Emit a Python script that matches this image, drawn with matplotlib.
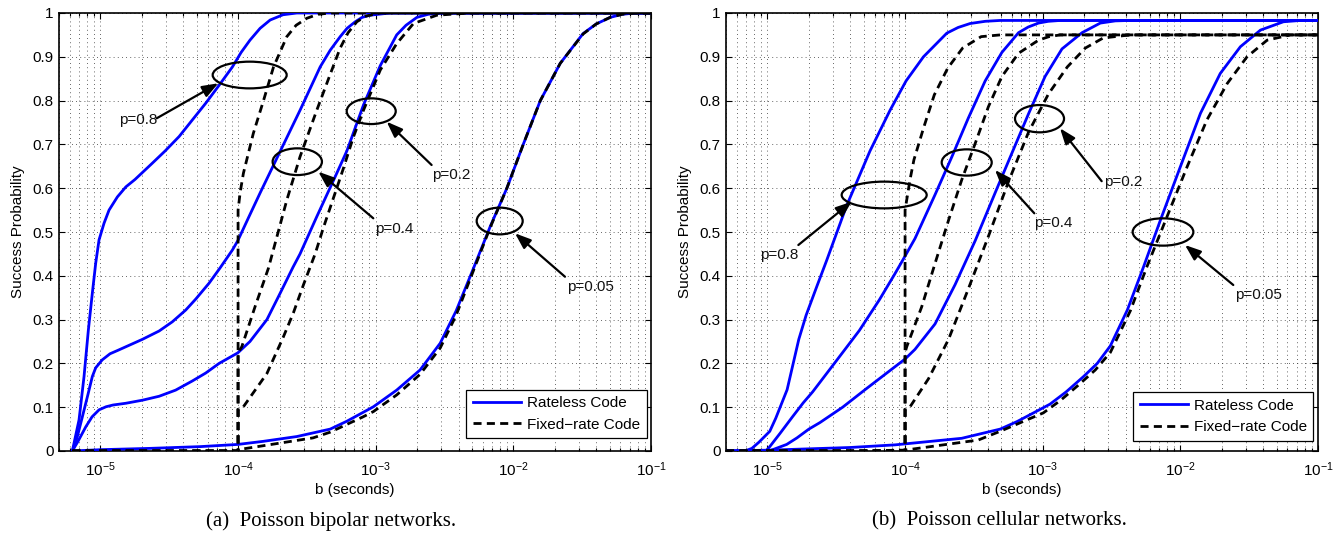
import matplotlib
matplotlib.use('Agg')
import matplotlib.pyplot as plt
from matplotlib.patches import Ellipse
from matplotlib.ticker import LogLocator, NullFormatter, FixedLocator, FixedFormatter

plt.rcParams['font.family'] = ['Liberation Sans', 'DejaVu Sans']
plt.rcParams['mathtext.fontset'] = 'custom'
plt.rcParams['mathtext.rm'] = 'Liberation Sans'
plt.rcParams['mathtext.it'] = 'Liberation Sans:italic'
plt.rcParams['mathtext.bf'] = 'Liberation Sans:bold'

# ---------------- data: (a) Poisson bipolar networks ----------------
bip_rl_p08_b = [6.25e-6, 6.99e-6, 7.60e-6, 8.17e-6, 8.73e-6, 9.24e-6, 9.77e-6, 1.062e-5, 1.155e-5,
                1.327e-5, 1.53e-5, 1.784e-5, 2.38e-5, 2.95e-5, 3.73e-5, 4.63e-5, 5.82e-5, 7.28e-5,
                9.10e-5, 1.052e-4, 1.22e-4, 1.445e-4, 1.71e-4, 2.12e-4, 2.67e-4, 1e-1]
bip_rl_p08_s = [0.0, 0.071, 0.17, 0.276, 0.36, 0.429, 0.482, 0.52, 0.55,
                0.58, 0.603, 0.62, 0.657, 0.685, 0.718, 0.755, 0.794, 0.835,
                0.877, 0.91, 0.938, 0.965, 0.984, 0.996, 1.0, 1.0]

bip_rl_p04_b = [6.25e-6, 6.76e-6, 7.39e-6, 8.13e-6, 8.73e-6, 9.24e-6, 1.03e-5, 1.174e-5, 1.343e-5,
                1.53e-5, 2.02e-5, 2.67e-5, 3.33e-5, 4.17e-5, 4.93e-5, 6.15e-5, 7.40e-5, 9.10e-5,
                9.95e-5, 1.20e-4, 1.45e-4, 1.89e-4, 2.82e-4, 3.95e-4, 4.67e-4, 5.52e-4, 6.19e-4,
                7.10e-4, 7.96e-4, 9.10e-4, 1.27e-3, 1e-1]
bip_rl_p04_s = [0.0, 0.03, 0.078, 0.13, 0.17, 0.19, 0.208, 0.222, 0.23,
                0.238, 0.255, 0.274, 0.295, 0.322, 0.347, 0.383, 0.418, 0.459,
                0.48, 0.535, 0.59, 0.665, 0.778, 0.877, 0.915, 0.946, 0.965,
                0.98, 0.99, 0.995, 1.0, 1.0]

bip_rl_p02_b = [6.25e-6, 6.87e-6, 7.82e-6, 8.69e-6, 9.77e-6, 1.098e-5, 1.235e-5, 1.53e-5, 2.02e-5,
                2.67e-5, 3.52e-5, 4.66e-5, 5.82e-5, 7.28e-5, 9.95e-5, 1.22e-4, 1.62e-4, 2.02e-4,
                2.51e-4, 2.82e-4, 3.73e-4, 5.21e-4, 6.17e-4, 8.15e-4, 1.08e-3, 1.42e-3, 1.66e-3,
                1.99e-3, 2.40e-3, 2.94e-3, 1e-1]
bip_rl_p02_s = [0.0, 0.022, 0.055, 0.078, 0.094, 0.101, 0.105, 0.109, 0.116,
                0.125, 0.139, 0.16, 0.178, 0.2, 0.224, 0.25, 0.30, 0.36,
                0.42, 0.45, 0.535, 0.634, 0.685, 0.79, 0.88, 0.95, 0.972,
                0.99, 0.997, 1.0, 1.0]

bip_rl_p005_b = [6.25e-6, 1e-5, 2.29e-5, 5.30e-5, 9.95e-5, 1.52e-4, 2.67e-4, 4.67e-4, 6.17e-4,
                 9.62e-4, 1.42e-3, 2.10e-3, 2.94e-3, 3.84e-3, 5.10e-3, 6.78e-3, 8.97e-3, 1.18e-2,
                 1.57e-2, 2.19e-2, 3.21e-2, 4.0e-2, 5.05e-2, 6.17e-2, 7.67e-2, 1e-1]
bip_rl_p005_s = [0.0, 0.003, 0.006, 0.01, 0.015, 0.022, 0.033, 0.05, 0.068,
                 0.101, 0.139, 0.185, 0.246, 0.32, 0.415, 0.512, 0.60, 0.70,
                 0.80, 0.885, 0.953, 0.975, 0.99, 0.997, 1.0, 1.0]

bip_fr_p08_b = [6.25e-6, 1e-4, 1e-4, 1.035e-4, 1.093e-4, 1.29e-4, 1.53e-4, 1.81e-4, 2.26e-4,
                2.64e-4, 3.16e-4, 3.81e-4, 4.67e-4, 1e-1]
bip_fr_p08_s = [0.0, 0.0, 0.55, 0.59, 0.634, 0.725, 0.80, 0.877, 0.946,
                0.972, 0.988, 0.997, 1.0, 1.0]

bip_fr_p04_b = [6.25e-6, 1e-4, 1e-4, 1.064e-4, 1.33e-4, 1.66e-4, 2.26e-4, 2.82e-4, 3.73e-4,
                4.67e-4, 5.52e-4, 6.30e-4, 7.29e-4, 8.51e-4, 1.08e-3, 1e-1]
bip_fr_p04_s = [0.0, 0.0, 0.225, 0.238, 0.33, 0.417, 0.573, 0.672, 0.778,
                0.86, 0.92, 0.955, 0.98, 0.993, 1.0, 1.0]

bip_fr_p02_b = [6.25e-6, 1e-4, 1e-4, 1.093e-4, 1.62e-4, 2.13e-4, 2.52e-4, 2.99e-4, 3.63e-4,
                4.17e-4, 5.21e-4, 5.82e-4, 6.85e-4, 8.15e-4, 1.08e-3, 1.42e-3, 1.88e-3, 2.78e-3,
                4.85e-3, 1e-1]
bip_fr_p02_s = [0.0, 0.0, 0.095, 0.101, 0.177, 0.26, 0.315, 0.38, 0.45,
                0.51, 0.60, 0.645, 0.715, 0.778, 0.87, 0.93, 0.976, 0.995,
                1.0, 1.0]

bip_fr_p005_b = [6.25e-6, 1e-4, 1e-4, 1.52e-4, 3.51e-4, 4.67e-4, 8.09e-4, 9.62e-4, 1.42e-3,
                 2.10e-3, 2.94e-3, 3.84e-3, 5.10e-3, 6.78e-3, 8.97e-3, 1.18e-2, 1.57e-2, 2.19e-2,
                 3.21e-2, 4.0e-2, 5.05e-2, 6.17e-2, 7.67e-2, 1e-1]
bip_fr_p005_s = [0.0, 0.0, 0.003, 0.012, 0.03, 0.043, 0.078, 0.09, 0.128,
                 0.175, 0.235, 0.31, 0.41, 0.51, 0.60, 0.70, 0.80, 0.885,
                 0.952, 0.975, 0.99, 0.997, 1.0, 1.0]

# ---------------- data: (b) Poisson cellular networks ----------------
cel_rl_p08_b = [5e-6, 6.86e-6, 7.71e-6, 8.67e-6, 1.04e-5, 1.15e-5, 1.39e-5, 1.69e-5, 1.91e-5,
                2.28e-5, 2.70e-5, 3.76e-5, 5.56e-5, 7.78e-5, 1.017e-4, 1.36e-4, 2.01e-4, 2.43e-4,
                2.97e-4, 3.82e-4, 4.91e-4, 1e-1]
cel_rl_p08_s = [0.0, 0.0, 0.006, 0.02, 0.045, 0.075, 0.14, 0.255, 0.31,
                0.375, 0.436, 0.56, 0.685, 0.778, 0.845, 0.9, 0.954, 0.967,
                0.976, 0.981, 0.983, 0.983]

cel_rl_p04_b = [5e-6, 9.75e-6, 1.04e-5, 1.233e-5, 1.52e-5, 1.82e-5, 2.13e-5, 3.15e-5, 4.65e-5,
                6.50e-5, 8.45e-5, 1e-4, 1.18e-4, 1.65e-4, 2.19e-4, 2.88e-4, 3.82e-4, 5.05e-4,
                6.67e-4, 7.85e-4, 9.32e-4, 1.096e-3, 1.34e-3, 1e-1]
cel_rl_p04_s = [0.0, 0.0, 0.01, 0.04, 0.078, 0.11, 0.135, 0.205, 0.275,
                0.345, 0.405, 0.445, 0.485, 0.585, 0.672, 0.76, 0.845, 0.91,
                0.955, 0.968, 0.977, 0.981, 0.983, 0.983]

cel_rl_p02_b = [5e-6, 1.03e-5, 1.38e-5, 1.64e-5, 2.00e-5, 2.41e-5, 3.52e-5, 5.12e-5, 7.36e-5,
                1e-4, 1.18e-4, 1.65e-4, 2.31e-4, 3.23e-4, 4.52e-4, 5.97e-4, 7.89e-4, 1.04e-3,
                1.38e-3, 1.93e-3, 2.62e-3, 3.37e-3, 4.33e-3, 1e-1]
cel_rl_p02_s = [0.0, 0.0, 0.015, 0.03, 0.05, 0.065, 0.10, 0.14, 0.178,
                0.21, 0.232, 0.29, 0.38, 0.48, 0.59, 0.68, 0.77, 0.855,
                0.918, 0.955, 0.977, 0.982, 0.983, 0.983]

cel_rl_p005_b = [5e-6, 1.04e-5, 3.98e-5, 8.45e-5, 2.58e-4, 4.91e-4, 6.49e-4, 8.11e-4, 1.13e-3,
                 1.48e-3, 1.98e-3, 2.49e-3, 3.10e-3, 4.12e-3, 5.41e-3, 7.16e-3, 1.0e-2, 1.40e-2,
                 1.95e-2, 2.73e-2, 3.82e-2, 5.61e-2, 7.46e-2, 1e-1]
cel_rl_p005_s = [0.0, 0.002, 0.008, 0.014, 0.029, 0.05, 0.067, 0.083, 0.107,
                 0.135, 0.17, 0.2, 0.24, 0.322, 0.421, 0.527, 0.649, 0.771,
                 0.862, 0.923, 0.961, 0.98, 0.983, 0.983]

cel_fr_p08_b = [5e-6, 1e-4, 1e-4, 1.087e-4, 1.16e-4, 1.37e-4, 1.63e-4, 2.04e-4, 2.62e-4,
                3.57e-4, 4.91e-4, 1e-1]
cel_fr_p08_s = [0.0, 0.0, 0.55, 0.62, 0.665, 0.74, 0.813, 0.874, 0.92,
                0.946, 0.95, 0.95]

cel_fr_p04_b = [5e-6, 1e-4, 1e-4, 1.028e-4, 1.32e-4, 1.65e-4, 2.07e-4, 2.58e-4, 3.23e-4,
                4.03e-4, 5.05e-4, 6.67e-4, 9.32e-4, 1.11e-3, 1.34e-3, 1e-1]
cel_fr_p04_s = [0.0, 0.0, 0.225, 0.238, 0.329, 0.428, 0.527, 0.619, 0.702,
                0.786, 0.855, 0.908, 0.938, 0.946, 0.95, 0.95]

cel_fr_p02_b = [5e-6, 1e-4, 1e-4, 1.087e-4, 1.48e-4, 2.07e-4, 2.88e-4, 4.03e-4, 5.64e-4,
                7.89e-4, 1.10e-3, 1.51e-3, 2.04e-3, 2.75e-3, 4.33e-3, 1e-1]
cel_fr_p02_s = [0.0, 0.0, 0.095, 0.101, 0.165, 0.255, 0.37, 0.49, 0.615,
                0.728, 0.815, 0.877, 0.92, 0.943, 0.95, 0.95]

cel_fr_p005_b = [5e-6, 3.98e-5, 1e-4, 3.40e-4, 4.91e-4, 1.01e-3, 1.34e-3, 1.81e-3, 2.41e-3,
                 3.10e-3, 4.33e-3, 5.72e-3, 8.0e-3, 1.12e-2, 1.56e-2, 2.19e-2, 3.05e-2, 4.27e-2,
                 6.31e-2, 1e-1]
cel_fr_p005_s = [0.0, 0.0, 0.002, 0.025, 0.045, 0.087, 0.115, 0.15, 0.185,
                 0.225, 0.32, 0.421, 0.535, 0.649, 0.756, 0.839, 0.9, 0.938,
                 0.95, 0.95]

# ---------------- labels ----------------
series_labels = ['Rateless Code', 'Fixed\u2212rate Code']
p_labels = ['p=0.8', 'p=0.4', 'p=0.2', 'p=0.05']
x_label = 'b (seconds)'
y_label = 'Success Probability'
y_ticks = [0, 0.1, 0.2, 0.3, 0.4, 0.5, 0.6, 0.7, 0.8, 0.9, 1.0]
y_tick_labels = ['0', '0.1', '0.2', '0.3', '0.4', '0.5', '0.6', '0.7', '0.8', '0.9', '1']
captions = ['(a)  Poisson bipolar networks.', '(b)  Poisson cellular networks.']

panels = [
    dict(rateless=[(bip_rl_p08_b, bip_rl_p08_s), (bip_rl_p04_b, bip_rl_p04_s),
                   (bip_rl_p02_b, bip_rl_p02_s), (bip_rl_p005_b, bip_rl_p005_s)],
         fixed=[(bip_fr_p08_b, bip_fr_p08_s), (bip_fr_p04_b, bip_fr_p04_s),
                (bip_fr_p02_b, bip_fr_p02_s), (bip_fr_p005_b, bip_fr_p005_s)]),
    dict(rateless=[(cel_rl_p08_b, cel_rl_p08_s), (cel_rl_p04_b, cel_rl_p04_s),
                   (cel_rl_p02_b, cel_rl_p02_s), (cel_rl_p005_b, cel_rl_p005_s)],
         fixed=[(cel_fr_p08_b, cel_fr_p08_s), (cel_fr_p04_b, cel_fr_p04_s),
                (cel_fr_p02_b, cel_fr_p02_s), (cel_fr_p005_b, cel_fr_p005_s)]),
]

# annotation layout (axes fractions): ellipse center, w, h, arrow tail, arrow head, text pos, ha
annot_layout = [
    [((0.3221, 0.8584), 0.125, 0.061, (0.1650, 0.7596), (0.2691, 0.8395), (0.1655, 0.756), 'right'),
     ((0.4025, 0.6605), 0.0833, 0.061, (0.5309, 0.5313), (0.4380, 0.6377), (0.5338, 0.5068), 'left'),
     ((0.5274, 0.7758), 0.0828, 0.0587, (0.6294, 0.6530), (0.5535, 0.7518), (0.6296, 0.6301), 'left'),
     ((0.7444, 0.5251), 0.0777, 0.061, (0.8547, 0.3979), (0.7703, 0.4970), (0.8576, 0.3751), 'left')],
    [((0.2672, 0.5845), 0.1436, 0.061, (0.1222, 0.4703), (0.2123, 0.5692), (0.1222, 0.4475), 'right'),
     ((0.4066, 0.6587), 0.0845, 0.060, (0.5208, 0.5427), (0.4544, 0.6416), (0.5208, 0.5199), 'left'),
     ((0.5296, 0.7587), 0.0828, 0.0623, (0.6346, 0.6160), (0.5642, 0.7368), (0.6385, 0.6148), 'left'),
     ((0.7382, 0.5000), 0.1025, 0.0623, (0.8569, 0.3790), (0.7753, 0.4703), (0.8598, 0.3562), 'left')],
]
legend_anchor = [(0.9927, 0.029), (0.9921, 0.0228)]

W, H = 1343, 536
fig = plt.figure(figsize=(W / 100, H / 100), dpi=100)
axes_px = [(59, 13, 592, 438), (726, 13, 592, 438)]
caption_x = [331, 999]

for i, panel in enumerate(panels):
    lx, ty, w, h = axes_px[i]
    ax = fig.add_axes([lx / W, 1 - (ty + h) / H, w / W, h / H])
    ax.set_xscale('log')
    for j, (b, s) in enumerate(panel['rateless']):
        ax.plot(b, s, color='#0000ff', lw=2.0, solid_joinstyle='round',
                label=series_labels[0] if j == 0 else None, zorder=3)
    for j, (b, s) in enumerate(panel['fixed']):
        ax.plot(b, s, color='k', lw=2.0, linestyle=(0, (2.9, 1.9)),
                label=series_labels[1] if j == 0 else None, zorder=4)
    ax.set_xlim(5e-6, 1e-1)
    ax.set_ylim(0, 1)
    ax.xaxis.set_major_locator(LogLocator(base=10, numticks=10))
    ax.xaxis.set_minor_locator(LogLocator(base=10, subs=[2, 3, 4, 5, 6, 7, 8, 9], numticks=20))
    ax.xaxis.set_minor_formatter(NullFormatter())
    ax.yaxis.set_major_locator(FixedLocator(y_ticks))
    ax.yaxis.set_major_formatter(FixedFormatter(y_tick_labels))
    ax.grid(True, which='major', axis='both', color='#333333', lw=0.6, linestyle=(0, (1, 4)))
    ax.grid(True, which='minor', axis='x', color='#333333', lw=0.6, linestyle=(0, (1, 4)))
    ax.tick_params(which='both', direction='in', top=True, right=True, labelsize=11,
                   width=0.8, colors='k')
    ax.tick_params(which='major', length=4.5)
    ax.tick_params(which='minor', length=2.5)
    ax.tick_params(axis='x', which='major', pad=6.5)
    ax.tick_params(axis='y', which='major', pad=4)
    for sp in ax.spines.values():
        sp.set_linewidth(1.2)
        sp.set_color('k')
    ax.set_xlabel(x_label, fontsize=11, labelpad=3.5)
    ax.set_ylabel(y_label, fontsize=11, labelpad=5.5)

    for k, (c, ew, eh, tail, head, tpos, ha) in enumerate(annot_layout[i]):
        ax.add_patch(Ellipse(c, ew, eh, transform=ax.transAxes, fill=False,
                             ec='k', lw=1.6, zorder=6))
        ax.annotate('', xy=head, xytext=tail, xycoords='axes fraction',
                    textcoords='axes fraction',
                    arrowprops=dict(arrowstyle='-|>,head_length=0.8,head_width=0.3',
                                    color='k', lw=1.6, shrinkA=0, shrinkB=0,
                                    mutation_scale=12), zorder=7)
        ax.text(tpos[0], tpos[1], p_labels[k], transform=ax.transAxes, ha=ha,
                va='center', fontsize=11, color='#111111', zorder=7)

    leg = ax.legend(loc='lower right', bbox_to_anchor=legend_anchor[i], borderaxespad=0,
                    fontsize=11, handlelength=3.16, handletextpad=0.37, labelspacing=0.5,
                    borderpad=0.43, fancybox=False, framealpha=1, edgecolor='k')
    leg.get_frame().set_linewidth(0.9)
    leg.set_zorder(10)

    fig.text(caption_x[i] / W, 1 - 521 / H, captions[i], ha='center', va='center',
             fontsize=15, family=['Liberation Serif', 'DejaVu Serif'])

fig.savefig('out.png', dpi=100)
